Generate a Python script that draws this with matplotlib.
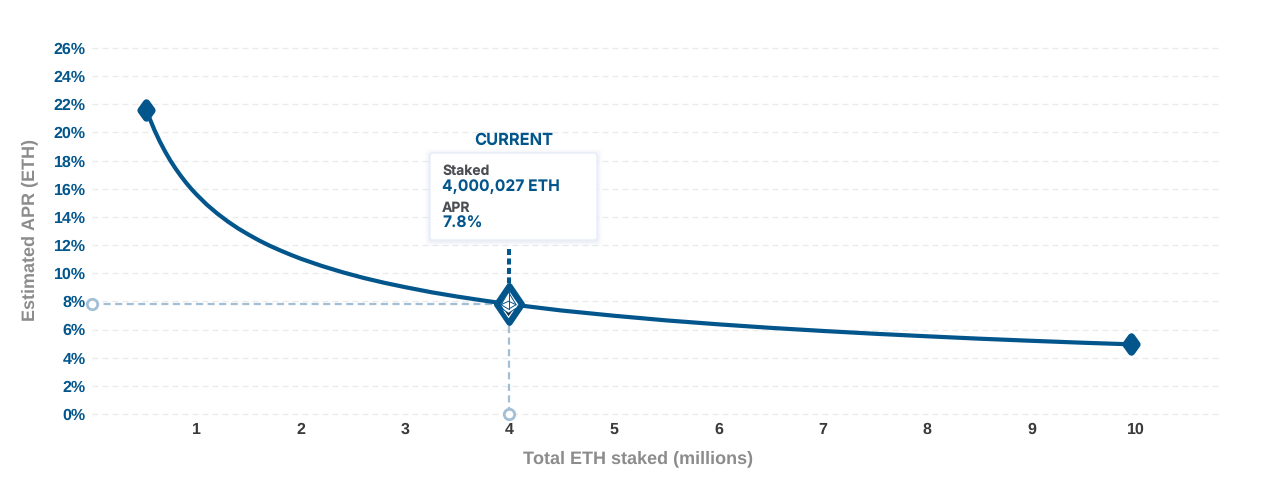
import matplotlib
matplotlib.use("Agg")
import matplotlib.pyplot as plt
from matplotlib.markers import MarkerStyle
from matplotlib.patches import FancyBboxPatch, Polygon
from matplotlib.path import Path

# ---------- DATA ----------
staked = [0.52, 0.55, 0.6, 0.65, 0.7, 0.75, 0.8, 0.85, 0.9, 0.95, 1, 1.1, 1.2, 1.3, 1.4,
          1.5, 1.6, 1.7, 1.8, 1.9, 2, 2.2, 2.4, 2.6, 2.8, 3, 3.25, 3.5, 3.75, 4,
          4.5, 5, 5.5, 6, 6.5, 7, 7.5, 8, 8.5, 9, 9.5, 9.95]
apr = [21.63, 21.03, 20.14, 19.35, 18.65, 18.01, 17.44, 16.92, 16.44, 16.0, 15.6, 14.87,
       14.24, 13.68, 13.18, 12.74, 12.33, 11.96, 11.63, 11.32, 11.03, 10.52, 10.07, 9.67,
       9.32, 9.01, 8.65, 8.34, 8.06, 7.8, 7.35, 6.98, 6.65, 6.37, 6.12, 5.9, 5.7, 5.52,
       5.35, 5.2, 5.06, 4.95]
current_x = 3.99
current_y = 7.8
x_ticks = [1, 2, 3, 4, 5, 6, 7, 8, 9, 10]
y_ticks = [0, 2, 4, 6, 8, 10, 12, 14, 16, 18, 20, 22, 24, 26]

BLUE = "#03568c"
PALE = "#a3bfd6"
W, H = 1284, 494

plt.rcParams["font.family"] = ["Liberation Sans", "DejaVu Sans"]
plt.rcParams["text.hinting"] = "no_hinting"
plt.rcParams["text.hinting_factor"] = 1
fig = plt.figure(figsize=(W / 100, H / 100), dpi=100, facecolor="white")

# axes placed so that x=0 is at px 92 and 0%..26% is px 414..48
ax = fig.add_axes([92 / W, 1 - 414 / H, (1219 - 92) / W, (414 - 48) / H])
ax.set_xlim(0, (1219 - 92) / 104.4)
ax.set_ylim(0, 26)
for s in ax.spines.values():
    s.set_visible(False)
ax.patch.set_alpha(0)

# ---------- GRID ----------
ax.set_yticks(y_ticks)
ax.set_yticklabels([f"{v}%" for v in y_ticks], fontsize=11.8, fontweight="bold", color=BLUE)
ax.set_xticks(x_ticks)
ax.set_xticklabels([str(v) for v in x_ticks], fontsize=11.5, fontweight="bold", color="#3a3a3a")
ax.tick_params(axis="both", length=0)
ax.tick_params(axis="y", pad=4.5)
ax.tick_params(axis="x", pad=6)
ax.grid(axis="y", color="#ebebeb", lw=1, dashes=(4.3, 2.9))
ax.set_axisbelow(True)
for gl in ax.get_ygridlines():
    gl.set_clip_on(False)

ax.set_xlabel("Total ETH staked (millions)", fontsize=13, fontweight="bold", color="#8c8c8c",
              labelpad=9.5, x=(638 - 92) / 1127)
ax.set_ylabel("Estimated APR (ETH)", fontsize=13.1, fontweight="bold", color="#8c8c8c",
              labelpad=11, y=(414 - 229.5) / 366)

# ---------- GUIDES TO CURRENT VALUE ----------
ax.plot([0, current_x], [current_y, current_y], color=PALE, lw=1.6, dashes=(3.2, 2), zorder=2)
ax.plot([current_x, current_x], [0, current_y], color=PALE, lw=1.6, dashes=(3.2, 2), zorder=2)
ax.plot([0, current_x], [current_y, 0], ls="none", marker="o", ms=7.5, mfc="white",
        mec=PALE, mew=2, clip_on=False, zorder=3)

# ---------- CURVE ----------
ax.plot(staked, apr, color=BLUE, lw=3, solid_capstyle="round", zorder=4)
end_marker = MarkerStyle(Path([(0, -1), (0.72, 0), (0, 1), (-0.72, 0), (0, -1)], closed=True), joinstyle="round")
ax.plot([staked[0], staked[-1]], [apr[0], apr[-1]], ls="none", marker=end_marker, ms=11,
        color=BLUE, mew=5.2, zorder=5)

# ---------- CURRENT MARKER ----------
cur_marker = MarkerStyle(Path([(0, -1), (0.68, 0), (0, 1), (-0.68, 0), (0, -1)], closed=True), joinstyle="round")
ax.plot([current_x], [current_y], ls="none", marker=cur_marker, ms=26.5, mfc="white", mec=BLUE, mew=4.4, zorder=6)

# overlay in pixel coords for the tooltip and the icon
ov = fig.add_axes([0, 0, 1, 1])
ov.set_xlim(0, W)
ov.set_ylim(H, 0)
ov.axis("off")
ov.patch.set_alpha(0)
ov.set_zorder(5)

cx, cy = ax.transData.transform((current_x, current_y))
cy = H - cy

# stem from the tooltip down to the marker
ov.plot([cx, cx], [249, cy - 19], color=BLUE, lw=2.9, dashes=(1.5, 0.85), zorder=2)

# ethereum logo
top = [(cx, cy - 12), (cx + 7.5, cy + 0.5), (cx, cy + 5), (cx - 7.5, cy + 0.5)]
ov.add_patch(Polygon(top, closed=True, fc="white", ec=BLUE, lw=0.7, zorder=7))
ov.plot([cx - 7.5, cx, cx + 7.5], [cy + 0.5, cy - 3, cy + 0.5], color=BLUE, lw=0.7, zorder=8)
ov.plot([cx, cx], [cy - 12, cy + 5], color=BLUE, lw=0.7, zorder=8)
ov.add_patch(Polygon([(cx - 7.5, cy + 4), (cx, cy + 9), (cx + 7.5, cy + 4), (cx, cy + 15)],
                     closed=True, fc="white", ec=BLUE, lw=0.7, zorder=7))
ov.add_patch(Polygon([(cx - 3.5, cy + 7), (cx, cy + 9), (cx + 3.5, cy + 7), (cx, cy + 12)],
                     closed=True, fc="#1d2b3a", ec="none", zorder=8))

# tooltip box, soft shadow first
for grow, alpha in [(5, 0.025), (3, 0.035), (1.5, 0.05)]:
    ov.add_patch(FancyBboxPatch((430 - grow, 153 - grow + 1), 167 + 2 * grow, 87 + 2 * grow,
                                boxstyle="round,pad=0,rounding_size=4", fc="#6a7fb0", ec="none",
                                alpha=alpha, zorder=3))
ov.add_patch(FancyBboxPatch((430, 153), 167, 87, boxstyle="round,pad=0,rounding_size=3",
                            fc="white", ec="#e8edfa", lw=1, zorder=4))

ov.text(513.5, 140, "CURRENT", fontsize=11.8, fontweight="bold", color=BLUE, ha="center",
        va="center", family=["Inter", "DejaVu Sans"], zorder=5)
ov.text(442, 171.5, "Staked", fontsize=10, fontweight="bold", color="#4a4d52", va="center",
        family=["Inter", "DejaVu Sans"], zorder=5)
ov.text(442, 187, "4,000,027 ETH", fontsize=11.3, fontweight="bold", color=BLUE, va="center",
        family=["Inter", "DejaVu Sans"], zorder=5)
ov.text(442, 208, "APR", fontsize=10, fontweight="bold", color="#4a4d52", va="center",
        family=["Inter", "DejaVu Sans"], zorder=5)
ov.text(442, 224, "7.8%", fontsize=11.3, fontweight="bold", color=BLUE, va="center",
        family=["Inter", "DejaVu Sans"], zorder=5)

fig.savefig("out.png", dpi=100, facecolor="white")
